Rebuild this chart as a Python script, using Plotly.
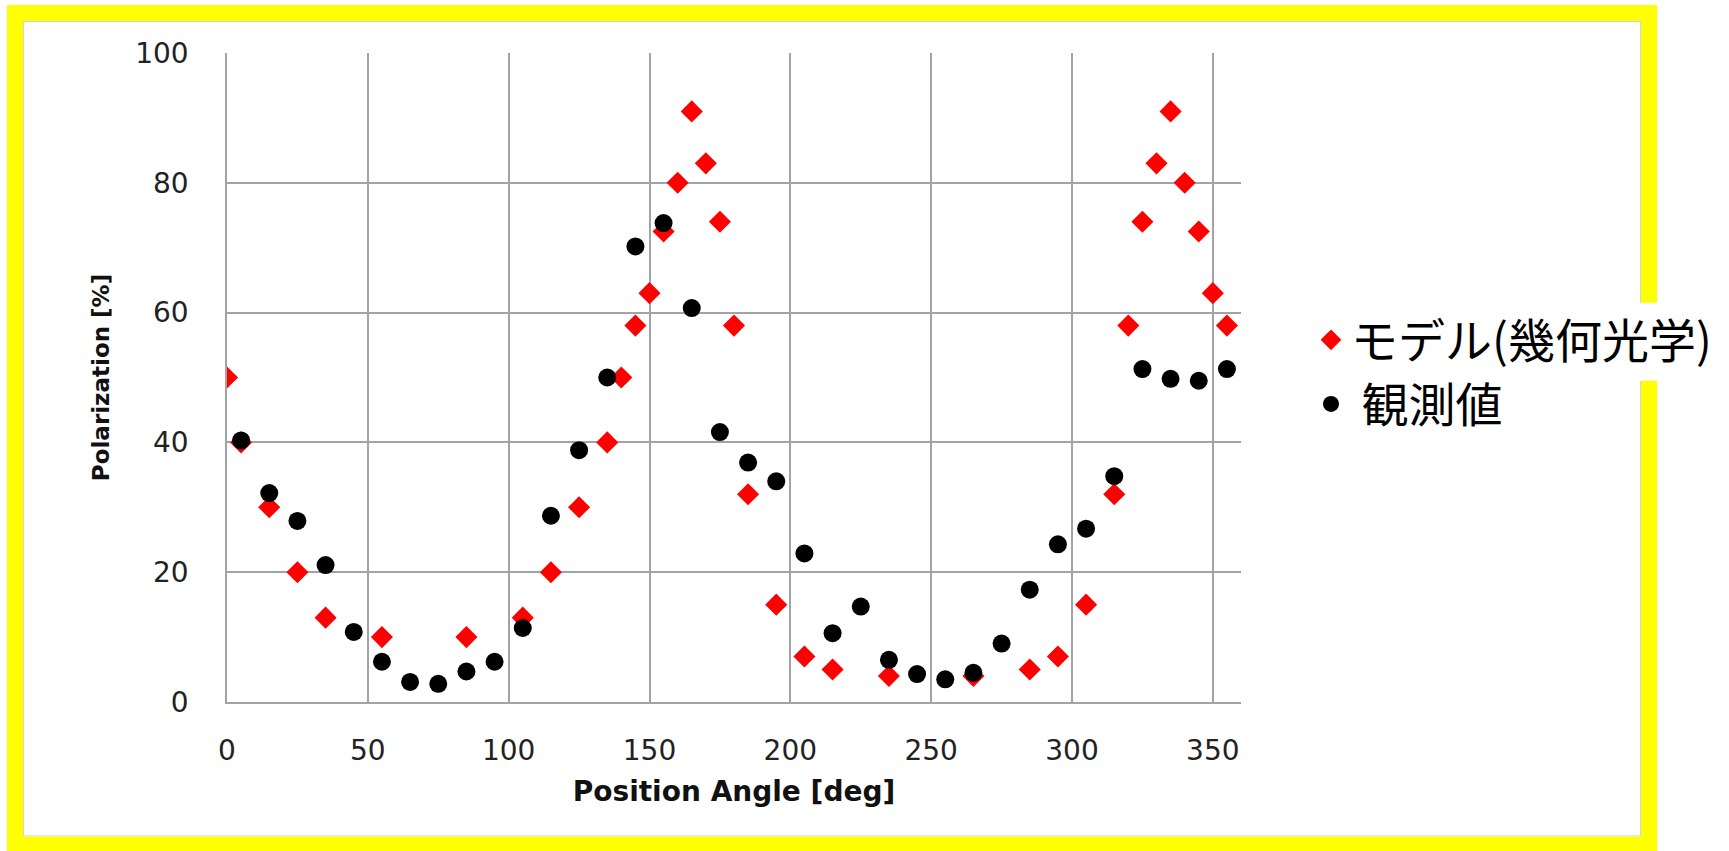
import plotly.graph_objects as go

# ---- data ----
model_angle = [0, 5, 15, 25, 35, 55, 85, 105, 115, 125, 135, 140, 145, 150, 155, 160, 165, 170,
               175, 180, 185, 195, 205, 215, 235, 265, 285, 295, 305, 315, 320, 325, 330, 335,
               340, 345, 350, 355]
model_pol = [50, 40, 30, 20, 13, 10, 10, 13, 20, 30, 40, 50, 58, 63, 72.5, 80, 91, 83,
             74, 58, 32, 15, 7, 5, 4, 4, 5, 7, 15, 32, 58, 74, 83, 91,
             80, 72.5, 63, 58]

obs_angle = [5, 15, 25, 35, 45, 55, 65, 75, 85, 95, 105, 115, 125, 135, 145, 155, 165, 175,
             185, 195, 205, 215, 225, 235, 245, 255, 265, 275, 285, 295, 305, 315, 325, 335,
             345, 355]
obs_pol = [40.3, 32.2, 27.9, 21.1, 10.8, 6.2, 3.1, 2.8, 4.7, 6.2, 11.4, 28.7, 38.8, 50, 70.2,
           73.8, 60.7, 41.6, 36.9, 34, 22.9, 10.6, 14.7, 6.5, 4.3, 3.5, 4.5, 9, 17.3, 24.3,
           26.7, 34.8, 51.3, 49.8, 49.5, 51.3]

x_ticks = [0, 50, 100, 150, 200, 250, 300, 350]
y_ticks = [0, 20, 40, 60, 80, 100]

series_names = ["モデル(幾何光学)", " 観測値"]
x_title = "Position Angle [deg]"
y_title = "Polarization [%]"

# ---- layout geometry (pixels) ----
W, H = 1729, 851
L, R, T, B = 227, 1241, 53, 702.5


def px(xp):
    return (xp - L) / (R - L)


def py(yp):
    return (B - yp) / (B - T)


fig = go.Figure()
fig.add_trace(go.Scatter(
    x=model_angle, y=model_pol, mode="markers", name=series_names[0],
    marker=dict(symbol="diamond", size=17, color="#ff0000", line=dict(width=0)),
))
fig.add_trace(go.Scatter(
    x=obs_angle, y=obs_pol, mode="markers", name=series_names[1],
    marker=dict(symbol="circle", size=18, color="#000000", line=dict(width=0)),
))

grid = "#a3a3a3"
fig.update_xaxes(
    range=[0, 360], tickvals=x_ticks, showgrid=True, gridcolor=grid, gridwidth=1.5,
    showline=True, linecolor=grid, linewidth=1.5, zeroline=False, ticks="",
    ticklabelstandoff=23,
    tickfont=dict(family="DejaVu Sans", size=28, color="#222222"),
    title=dict(text=x_title, standoff=15,
               font=dict(family="DejaVu Sans", size=28, color="#111111", weight="bold")),
)
fig.update_yaxes(
    range=[0, 100], tickvals=y_ticks, showgrid=True, gridcolor=grid, gridwidth=1.5,
    showline=True, linecolor=grid, linewidth=1.5, zeroline=False, ticks="",
    ticklabelstandoff=31,
    tickfont=dict(family="DejaVu Sans", size=28, color="#222222"),
    title=dict(text=y_title, standoff=19,
               font=dict(family="DejaVu Sans", size=23, color="#111111", weight="bold")),
)

yellow_path = (f"M {px(1649)} {py(303)} L {px(1649)} {py(13)} L {px(15)} {py(13)} "
               f"L {px(15)} {py(845)} L {px(1649)} {py(845)} L {px(1649)} {py(381)}")
gray_path = (f"M {px(1640.5)} {py(303)} L {px(1640.5)} {py(21.5)} L {px(23.5)} {py(21.5)} "
             f"L {px(23.5)} {py(836.5)} L {px(1640.5)} {py(836.5)} L {px(1640.5)} {py(381)}")

fig.update_layout(
    width=W, height=H,
    margin=dict(l=L, r=W - R, t=T, b=H - B),
    paper_bgcolor="white", plot_bgcolor="white",
    showlegend=True,
    legend=dict(x=px(1311), y=py(303), xanchor="left", yanchor="top",
                bgcolor="rgba(0,0,0,0)",
                font=dict(family="Noto Sans CJK JP", size=47, color="#000000"),
                itemwidth=30, tracegroupgap=0),
    shapes=[
        dict(type="path", xref="paper", yref="paper", path=gray_path,
             line=dict(color="#d4d4d4", width=1), layer="below"),
        dict(type="path", xref="paper", yref="paper", path=yellow_path,
             line=dict(color="#ffff00", width=16), layer="above"),
    ],
)

fig.write_html("out.html")
